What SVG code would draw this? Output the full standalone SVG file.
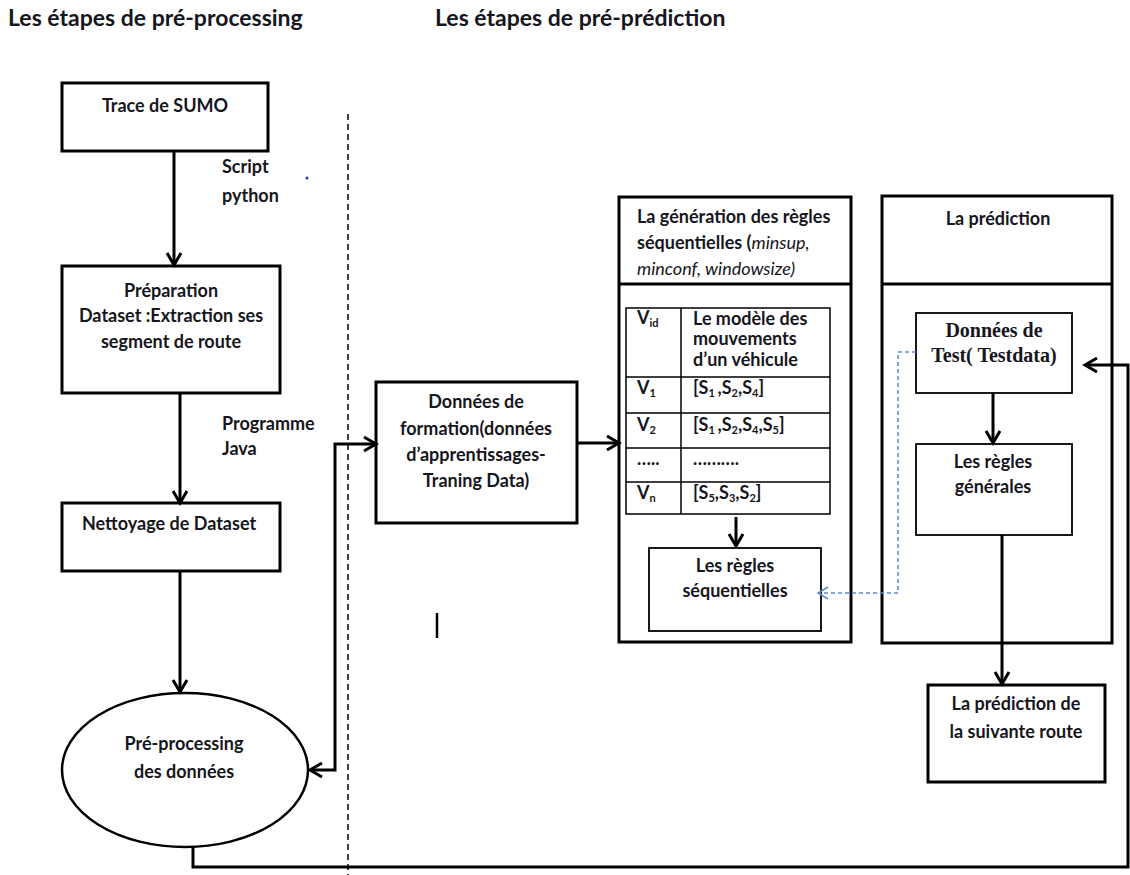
<svg xmlns="http://www.w3.org/2000/svg" width="1130" height="875" viewBox="0 0 1130 875">
<style>
text{font-family:Lato,"Open Sans","Liberation Sans",sans-serif;font-weight:bold;fill:#161620;font-size:18px}
.title{font-size:23px}
.c{text-anchor:middle}
.serif{font-family:"Liberation Serif","DejaVu Serif",serif;font-size:20px}
.box{fill:#fff;stroke:#000;stroke-width:3}
.thin{fill:#fff;stroke:#000;stroke-width:1.8}
.cell{fill:none;stroke:#000;stroke-width:1.5}
.conn{fill:none;stroke:#000;stroke-width:3}
.dash{fill:none;stroke:#5b8ad0;stroke-width:1.5;stroke-dasharray:4 3}
.it{font-style:italic;font-weight:normal}
.sub{font-size:11px}
</style>
<defs>
<marker id="arr" markerUnits="userSpaceOnUse" markerWidth="20" markerHeight="20" viewBox="0 0 20 20" refX="17" refY="10" orient="auto-start-reverse">
<path d="M5,3 L17,10 L5,17" fill="none" stroke="#000" stroke-width="3"/>
</marker>
<marker id="arrb" markerUnits="userSpaceOnUse" markerWidth="20" markerHeight="20" viewBox="0 0 20 20" refX="16" refY="10" orient="auto">
<path d="M6,4 L16,10 L6,16" fill="none" stroke="#5b8ad0" stroke-width="1.5"/>
</marker>
</defs>

<text class="title" x="8" y="26">Les étapes de pré-processing</text>
<text class="title" x="435" y="26">Les étapes de pré-prédiction</text>

<line x1="348" y1="114" x2="348" y2="875" stroke="#000" stroke-width="1.5" stroke-dasharray="6 4"/>
<circle cx="307" cy="178" r="1.5" fill="#2233cc"/>
<line x1="437" y1="613" x2="437" y2="638" stroke="#000" stroke-width="2.5"/>

<text x="222" y="173">Script</text>
<text x="222" y="202">python</text>
<text x="222" y="430">Programme</text>
<text x="222" y="455">Java</text>

<g id="trace">
<rect class="box" x="62" y="83" width="206" height="68"/>
<text class="c" x="165" y="112">Trace de SUMO</text>
</g>

<g id="preparation">
<rect class="box" x="62" y="266" width="218" height="127"/>
<text class="c" x="171" y="297">Préparation</text>
<text class="c" x="171" y="322">Dataset :Extraction ses</text>
<text class="c" x="171" y="348">segment de route</text>
</g>

<g id="nettoyage">
<rect class="box" x="62" y="503" width="218" height="68"/>
<text x="82" y="530">Nettoyage de Dataset</text>
</g>

<g id="preprocessing">
<ellipse cx="185" cy="770" rx="123" ry="77" fill="#fff" stroke="#000" stroke-width="2.5"/>
<text class="c" x="184" y="750">Pré-processing</text>
<text class="c" x="184" y="778">des données</text>
</g>

<g id="formation">
<rect class="box" x="376" y="382" width="201" height="141"/>
<text class="c" x="476" y="408">Données  de</text>
<text class="c" x="476" y="435">formation(données</text>
<text class="c" x="476" y="461">d’apprentissages-</text>
<text class="c" x="476" y="487">Traning Data)</text>
</g>

<g id="generation">
<rect class="box" x="619" y="197" width="232" height="445"/>
<line x1="619" y1="284" x2="851" y2="284" stroke="#000" stroke-width="3"/>
<text x="637" y="223">La génération des règles</text>
<text x="637" y="249">séquentielles (<tspan class="it">minsup,</tspan></text>
<text x="637" y="275"><tspan class="it">minconf, windowsize)</tspan></text>
<rect class="cell" x="626" y="308" width="204" height="206"/>
<line class="cell" x1="681" y1="308" x2="681" y2="514"/>
<line class="cell" x1="626" y1="377" x2="830" y2="377"/>
<line class="cell" x1="626" y1="413" x2="830" y2="413"/>
<line class="cell" x1="626" y1="448" x2="830" y2="448"/>
<line class="cell" x1="626" y1="482" x2="830" y2="482"/>
<text x="637" y="324">V<tspan class="sub" dy="3">id</tspan></text>
<text x="693" y="325">Le modèle des</text>
<text x="693" y="345">mouvements</text>
<text x="693" y="366">d’un véhicule</text>
<text x="637" y="394">V<tspan class="sub" dy="3">1</tspan></text>
<text x="693" y="394">[S<tspan class="sub" dy="3">1 </tspan><tspan dy="-3">,S</tspan><tspan class="sub" dy="3">2</tspan><tspan dy="-3">,S</tspan><tspan class="sub" dy="3">4</tspan><tspan dy="-3">]</tspan></text>
<text x="637" y="431">V<tspan class="sub" dy="3">2</tspan></text>
<text x="693" y="431">[S<tspan class="sub" dy="3">1 </tspan><tspan dy="-3">,S</tspan><tspan class="sub" dy="3">2</tspan><tspan dy="-3">,S</tspan><tspan class="sub" dy="3">4</tspan><tspan dy="-3">,S</tspan><tspan class="sub" dy="3">5</tspan><tspan dy="-3">]</tspan></text>
<text x="637" y="465">…..</text>
<text x="693" y="465">……….</text>
<text x="637" y="499">V<tspan class="sub" dy="3">n</tspan></text>
<text x="693" y="499">[S<tspan class="sub" dy="3">5</tspan><tspan dy="-3">,S</tspan><tspan class="sub" dy="3">3</tspan><tspan dy="-3">,S</tspan><tspan class="sub" dy="3">2</tspan><tspan dy="-3">]</tspan></text>
</g>

<g id="regles-seq">
<rect class="thin" x="649" y="548" width="172" height="83"/>
<text class="c" x="735" y="572">Les règles</text>
<text class="c" x="735" y="597">séquentielles</text>
</g>

<g id="prediction">
<rect class="box" x="882" y="196" width="230" height="447"/>
<line x1="882" y1="284" x2="1112" y2="284" stroke="#000" stroke-width="3"/>
<text class="c" x="998" y="225">La prédiction</text>
</g>

<g id="testdata">
<rect class="thin" x="916" y="313" width="156" height="80"/>
<text class="c serif" x="994" y="337">Données de</text>
<text class="c serif" x="994" y="362">Test( Testdata)</text>
</g>

<g id="regles-gen">
<rect class="thin" x="916" y="444" width="156" height="91"/>
<text class="c" x="993" y="468">Les règles</text>
<text class="c" x="993" y="493">générales</text>
</g>

<g id="prediction-route">
<rect class="box" x="928" y="685" width="177" height="97"/>
<text class="c" x="1016" y="710">La prédiction de</text>
<text class="c" x="1016" y="738">la suivante route</text>
</g>

<g id="connectors">
<line class="conn" x1="174" y1="151" x2="174" y2="265" marker-end="url(#arr)"/>
<line class="conn" x1="180" y1="393" x2="180" y2="503" marker-end="url(#arr)"/>
<line class="conn" x1="180" y1="571" x2="180" y2="692" marker-end="url(#arr)"/>
<path class="conn" d="M376,444 H335 V770 H310" marker-start="url(#arr)" marker-end="url(#arr)"/>
<line class="conn" x1="577" y1="443" x2="619" y2="443" marker-end="url(#arr)"/>
<line class="conn" x1="736" y1="517" x2="736" y2="546" marker-end="url(#arr)"/>
<line class="conn" x1="993" y1="393" x2="993" y2="443" marker-end="url(#arr)"/>
<line class="conn" x1="1002" y1="535" x2="1002" y2="684" marker-end="url(#arr)"/>
<path class="conn" d="M193,847 V867 H1128 V365 H1085" marker-end="url(#arr)"/>
<path class="dash" d="M916,352 H898 V593 H818" marker-end="url(#arrb)"/>
</g>
</svg>
